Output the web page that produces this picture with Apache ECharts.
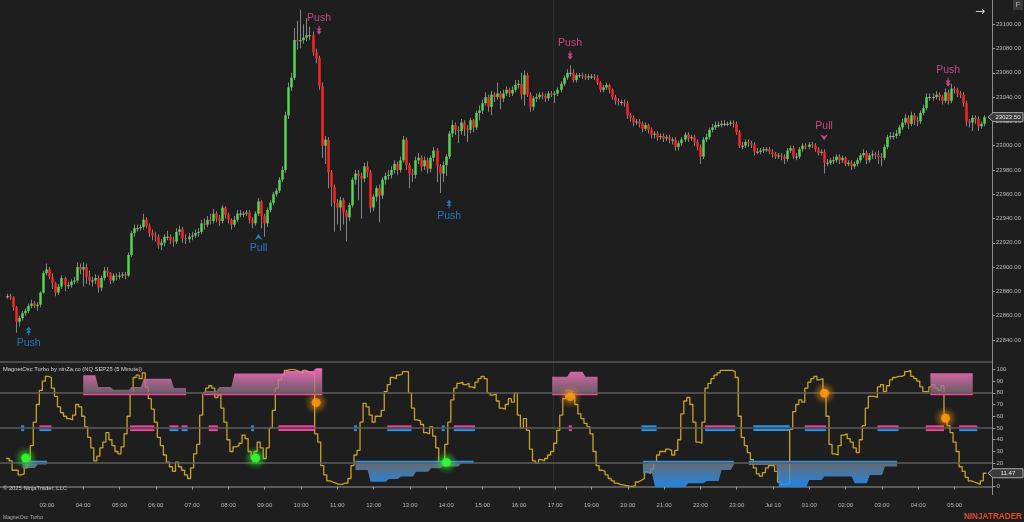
<!DOCTYPE html>
<html>
<head>
<meta charset="utf-8">
<title>NQ SEP25 (5 Minute) - MagnetOsc Turbo</title>
<script src="https://cdn.jsdelivr.net/npm/echarts@6/dist/echarts.min.js"></script>
<style>
html,body{margin:0;padding:0;background:#1e1e1e;overflow:hidden;}
#chart{width:1024px;height:522px;}
</style>
</head>
<body>
<div id="chart"></div>
<script>
// ================= DATA =================
const firstOpen = 22876;
const closes = [
22876,22875,22867,22855,22858,22862,22864,22868,22870,22868,
22869,22879,22895,22898,22892,22887,22879,22884,22891,22885,
22885,22888,22889,22900,22898,22900,22892,22889,22889,22891,
22883,22891,22897,22895,22889,22893,22892,22893,22894,22893,
22910,22928,22932,22932,22933,22939,22934,22928,22926,22925,
22918,22920,22925,22925,22922,22921,22929,22931,22924,22923,
22925,22926,22928,22929,22936,22935,22939,22938,22944,22940,
22938,22949,22943,22939,22935,22939,22944,22944,22944,22945,
22939,22936,22944,22954,22942,22936,22947,22953,22960,22963,
22972,22980,23025,23048,23056,23087,23086,23087,23089,23091,
23091,23077,23072,23049,23000,23005,22978,22966,22953,22949,
22955,22945,22941,22951,22972,22977,22975,22973,22983,22978,
22949,22958,22965,22959,22972,22975,22976,22980,22985,22980,
22988,23005,22984,22977,22976,22988,22990,22983,22988,22981,
22990,22996,22983,22977,22984,22991,23010,23017,23013,23012,
23019,23014,23013,23021,23015,23027,23029,23035,23040,23032,
23042,23040,23043,23039,23043,23046,23043,23046,23050,23051,
23042,23058,23042,23032,23039,23040,23042,23041,23039,23043,
23042,23043,23046,23051,23056,23060,23060,23054,23058,23058,
23057,23056,23057,23057,23056,23052,23046,23048,23050,23046,
23040,23037,23036,23036,23035,23025,23023,23019,23020,23018,
23014,23017,23013,23009,23010,23007,23008,23006,23007,23005,
23005,22999,23002,23005,23009,23006,23007,23003,22999,22991,
23005,23007,23013,23015,23017,23017,23018,23018,23018,23019,
23018,23011,23000,23000,23003,23002,23001,22995,22995,22996,
22997,22997,22995,22993,22991,22992,22991,22989,22996,22998,
22991,22991,22997,23000,22999,23001,23000,22997,22994,22995,
22986,22986,22988,22988,22991,22988,22990,22985,22986,22983,
22985,22988,22992,22994,22988,22992,22993,22992,22991,22990,
22999,23007,23008,23008,23010,23015,23019,23023,23018,23025,
23021,23020,23027,23031,23040,23040,23040,23042,23040,23037,
23044,23037,23047,23046,23043,23042,23035,23020,23019,23023,
23022,23016,23018,23023.5];
const highs = [
22878,22878,22876,22868,22860,22864,22866,22870,22873,22872,
22871,22880,22897,22903,22900,22895,22888,22886,22893,22892,
22888,22890,22892,22904,22903,22904,22903,22897,22892,22894,
22893,22893,22900,22900,22896,22895,22895,22896,22896,22896,
22912,22930,22935,22935,22935,22944,22941,22936,22931,22929,
22927,22923,22927,22930,22927,22925,22932,22934,22933,22927,
22928,22929,22931,22932,22939,22940,22942,22944,22948,22946,
22943,22951,22950,22945,22940,22942,22947,22947,22946,22947,
22947,22941,22946,22957,22955,22944,22949,22955,22962,22965,
22974,22983,23028,23052,23060,23097,23103,23112,23100,23105,
23098,23094,23080,23074,23052,23008,23007,22980,22968,22956,
22958,22957,22947,22953,22974,22980,22980,22978,22986,22987,
22980,22960,22967,22968,22974,22978,22980,22983,22988,22987,
22991,23008,23007,22986,22981,22991,22994,22992,22991,22990,
22992,22999,22998,22985,22987,22993,23012,23021,23019,23016,
23022,23021,23017,23023,23022,23029,23033,23038,23044,23042,
23045,23044,23052,23045,23046,23049,23048,23049,23054,23054,
23060,23062,23060,23044,23041,23043,23044,23044,23043,23045,
23045,23045,23048,23053,23058,23063,23066,23063,23060,23060,
23060,23059,23059,23059,23059,23058,23053,23050,23052,23051,
23047,23042,23039,23038,23038,23037,23027,23025,23022,23022,
23020,23019,23018,23015,23012,23012,23010,23010,23009,23009,
23007,23007,23004,23007,23011,23011,23009,23009,23005,23001,
23007,23010,23015,23018,23020,23020,23021,23021,23020,23021,
23021,23020,23013,23003,23005,23005,23004,23003,22998,22998,
22999,22999,22999,22997,22995,22994,22994,22993,22998,23000,
23000,22994,22999,23002,23002,23003,23003,23002,22999,22997,
22997,22989,22990,22991,22993,22993,22992,22991,22988,22988,
22987,22990,22994,22997,22996,22994,22996,22995,22996,22994,
23001,23009,23011,23011,23013,23017,23022,23026,23025,23028,
23027,23024,23029,23034,23043,23043,23043,23045,23044,23042,
23047,23046,23051,23049,23048,23045,23044,23037,23022,23025,
23025,23024,23020,23025];
const lows = [
22874,22873,22864,22846,22851,22856,22860,22862,22866,22866,
22864,22867,22878,22893,22890,22882,22876,22877,22882,22880,
22882,22883,22886,22887,22894,22884,22886,22885,22884,22886,
22879,22880,22889,22892,22886,22887,22889,22890,22891,22890,
22892,22908,22925,22929,22930,22931,22932,22925,22922,22921,
22915,22914,22917,22922,22919,22917,22919,22926,22920,22919,
22920,22922,22924,22925,22927,22931,22933,22935,22936,22937,
22934,22936,22940,22936,22931,22933,22937,22941,22941,22942,
22936,22932,22934,22942,22932,22925,22933,22945,22951,22958,
22961,22970,22978,23022,23045,23054,23079,23080,23084,23086,
23087,23074,23068,23046,22990,22985,22965,22950,22929,22935,
22930,22935,22921,22938,22949,22968,22955,22940,22970,22974,
22945,22946,22954,22937,22956,22968,22972,22973,22977,22976,
22978,22986,22980,22965,22970,22973,22985,22979,22980,22977,
22978,22987,22970,22961,22970,22975,22989,23007,23009,23002,
23009,23008,23003,23010,23011,23013,23021,23026,23033,23028,
23025,23036,23038,23030,23036,23041,23040,23041,23044,23047,
23038,23033,23040,23028,23029,23036,23038,23038,23036,23037,
23040,23035,23041,23044,23049,23054,23057,23052,23052,23056,
23055,23054,23054,23055,23054,23050,23044,23044,23046,23043,
23038,23034,23033,23033,23032,23022,23020,23016,23017,23015,
23011,23012,23010,23006,23006,23004,23005,23003,23004,23002,
23001,22996,22996,23000,23003,23003,23004,23000,22996,22985,
22989,23003,23005,23011,23013,23015,23015,23016,23016,23016,
23015,23009,22998,22997,22998,22999,22998,22992,22993,22993,
22994,22995,22993,22990,22989,22989,22988,22985,22987,22994,
22989,22988,22989,22995,22997,22997,22998,22995,22992,22992,
22977,22983,22984,22985,22986,22985,22986,22983,22983,22980,
22981,22983,22986,22990,22985,22986,22989,22989,22985,22983,
22988,22997,23005,23005,23006,23008,23013,23017,23014,23016,
23017,23016,23018,23025,23029,23037,23037,23038,23037,23034,
23035,23034,23035,23043,23040,23039,23032,23016,23015,23012,
23018,23012,23014,23016];
const osc = [
24,22,14,14,10,11,16,21,35,55,
70,82,90,94,93,84,77,68,63,60,
58,57,61,70,68,60,51,42,33,22,
26,33,38,46,40,35,30,28,34,45,
60,80,93,95,92,97,85,75,66,55,
42,35,27,21,17,13,21,17,14,10,
7,16,28,36,61,80,84,86,84,76,
78,67,55,40,30,34,35,37,44,41,
30,24,30,38,33,24,33,50,65,84,
91,95,99,100,100,99,98,97,99,98,
97,96,45,38,18,10,5,4,3,2,
2,3,3,7,18,27,31,55,71,68,
61,55,60,60,65,81,87,93,92,95,
96,98,98,80,67,57,56,53,46,45,
51,43,33,20,21,36,55,74,84,88,
89,87,88,85,84,89,92,94,92,80,
78,79,73,67,66,70,75,72,80,61,
50,58,48,32,22,20,23,22,24,27,
30,37,48,61,75,82,81,77,70,62,
58,54,51,45,30,18,14,13,10,7,
5,3,2,1.5,1,0.5,0.3,1,4,5.5,
7,12.8,11.4,15,21,27,30,30,32,31,
27,31,40,62,73,76,70,55,38,37,
55,84,88,92,95,97,99,99,99,99,
98,93,60,42,35,29,23,16,11,9,
12,16,18,18,13,4,2,2,3,49,
64,70,74,72,84,89,92,94,91,92,
82,60,36,28,27,35,44,45,41,38,
33,29,40,52,67,77,77,76,85,87,
81,86,91,93,94,94,95,98,99,94,
92,90,85,81,81,85,87,84,82,86,
56,52,46,38,30,17,13,8,5,4,
3,2,5,11.47];
const lastPrice = 23023.5;
const lastOsc = 11.47;

// time-axis labels (bar index -> text)
const tickIndex  = [13,25,37,49,61,73,85,97,109,121,133,145,157,169,181,193,205,217,229,241,253,265,277,289,301,313];
const tickLabels = ['03:00','04:00','05:00','06:00','07:00','08:00','09:00','10:00','11:00','12:00','13:00','14:00','15:00','16:00','17:00','19:00','20:00','21:00','22:00','23:00','Jul 10','01:00','02:00','03:00','04:00','05:00'];
const priceTicks = {min:22820, max:23120, step:20};

// Push / Pull signals on the price pane (bar index, price level)
const signals = [
  {i:7,   price:22847.3, kind:'pushUp',   text:'Push'},
  {i:83,  price:22924.7, kind:'pullUp',   text:'Pull'},
  {i:103, price:23095.1, kind:'pushDown', text:'Push'},
  {i:146, price:22951.9, kind:'pushUp',   text:'Push'},
  {i:186, price:23074.5, kind:'pushDown', text:'Push'},
  {i:270, price:23007.0, kind:'pullDown', text:'Pull'},
  {i:311, price:23052.3, kind:'pushDown', text:'Push'}
];
// oscillator glow dots (bar index, oscillator value)
const greenDots  = [[6,24.4],[82,24.4],[145,20.8]];
const orangeDots = [[102,71.6],[186,76.7],[270,79.6],[310,58.3]];
// magnet zones: start bar + runs of [level, bars]
const pinkZones = [
  {start:25,  runs:[[95,5],[85,5],[82.5,6],[85,4],[92,10],[84,5]]},
  {start:65,  runs:[[81.5,5],[85,5],[96.5,17],[98.5,10],[101,3]]},
  {start:180, runs:[[93.7,6],[98,5],[93.7,5]]},
  {start:305, runs:[[96.6,15]]}
];
const blueZones = [
  {start:5,   runs:[[16,5],[19,4]]},
  {start:115, runs:[[14.2,5],[4.3,6],[6.5,4],[8.6,5],[12.8,5],[15.7,4],[17.1,6],[20,5]]},
  {start:210, runs:[[11.4,4],[0,11],[2.9,6],[4.9,5],[14.2,4],[18.5,1]]},
  {start:245, runs:[[18.5,10],[0,10],[5.7,5],[8.6,10],[2.9,5],[10,5],[17.1,5]]}
];
// mid-level dashes: [fromBar, toBar, upperIsPink, lowerIsPink]
const midDashes = [[5,5,0,0],[11,14,1,0],[41,48,1,1],[54,56,1,0],[58,59,1,0],[67,69,1,1],[81,81,0,0],[90,101,1,1],
  [115,115,0,0],[126,133,1,0],[144,144,0,0],[148,154,1,0],[186,186,1,1],[210,214,0,0],[231,240,1,0],[247,258,0,0],
  [264,270,1,0],[288,294,1,0],[304,309,1,1],[315,320,1,0]];
const levels = {upper:80, mid:50, lower:20, pinkLine:78.7, blueLine:21.3, dashHi:51.4, dashLo:48.2};

// ================= CHART =================
const OFF = 2, TRAIL = 2;
const NSLOT = closes.length + OFF + TRAIL;
const FONT = '"Liberation Sans", Arial, sans-serif';
const UP = '#55d655', DN = '#ff2222', DOJI = '#b8b8b8', WICK = '#858585';
const PINK = '#ff3d9e', BLUE = '#2196f3';

function pad(n){return (n<10?'0':'')+n;}
const cats = [];
for (let k=0;k<NSLOT;k++){
  const i = k-OFF;
  let m = i<=181 ? 115+5*i : 1085+5*(i-182);
  const day = m>=1440 ? 'Jul 10 ' : 'Jul 9 ';
  m = m%1440;
  cats.push(day+pad(Math.floor(m/60))+':'+pad(m%60));
}
const labelAt = {};
tickIndex.forEach((t,j)=>{ labelAt[t+OFF] = tickLabels[j]; });
const showTick = (idx)=> labelAt[idx] !== undefined;

const candleData = closes.map((c,i)=>[i+OFF, i===0?firstOpen:closes[i-1], c, lows[i], highs[i]]);
const oscData = [];
for (let k=0;k<NSLOT;k++){ const i=k-OFF; oscData.push(i>=0 && i<osc.length ? osc[i] : null); }

function expandRuns(runs){ const out=[]; runs.forEach(r=>{for(let j=0;j<r[1];j++) out.push(r[0]);}); return out; }

function renderCandle(params, api){
  const k=api.value(0), o=api.value(1), c=api.value(2), l=api.value(3), h=api.value(4);
  const pO=api.coord([k,o]), pC=api.coord([k,c]);
  const pL=api.coord([k,Math.min(l,o,c)]), pH=api.coord([k,Math.max(h,o,c)]);
  const cx=Math.floor(pO[0]);
  const top=Math.min(pO[1],pC[1]), bot=Math.max(pO[1],pC[1]);
  const col = c>o?UP:(c<o?DN:DOJI);
  return {type:'group', children:[
    {type:'rect', shape:{x:cx, y:pH[1], width:1, height:Math.max(1,pL[1]-pH[1])}, style:{fill:WICK}},
    {type:'rect', shape:{x:cx-0.75, y:top, width:2.5, height:Math.max(1,bot-top)}, style:{fill:col}}
  ]};
}

function zoneRenderer(zones, lineVal, lineColor, g){
  return function(params, api){
    const z = zones[params.dataIndex];
    const vals = expandRuns(z.runs);
    const s = z.start+OFF, e = s+vals.length-1;
    const pts = [api.coord([s,lineVal])];
    vals.forEach((v,j)=>pts.push(api.coord([s+j,v])));
    pts.push(api.coord([e,lineVal]));
    const y0 = api.coord([s,g.v0])[1], y1 = api.coord([s,g.v1])[1];
    const a = api.coord([s,lineVal]), b = api.coord([e,lineVal]);
    return {type:'group', children:[
      {type:'polygon', shape:{points:pts}, style:{fill:new echarts.graphic.LinearGradient(0,y0,0,y1,[{offset:0,color:g.c0},{offset:1,color:g.c1}],true), opacity:0.9}},
      {type:'line', shape:{x1:a[0],y1:a[1],x2:b[0],y2:b[1]}, style:{stroke:lineColor, lineWidth:2}}
    ]};
  };
}

function renderDash(params, api){
  const f=api.value(0), t=api.value(2), up=api.value(3), lo=api.value(4);
  const bw = api.size([1,0])[0];
  const a = api.coord([f, levels.dashHi]), b = api.coord([t, levels.dashHi]);
  const c = api.coord([f, levels.dashLo]);
  const x = a[0]-bw/2, w = b[0]-a[0]+bw;
  return {type:'group', children:[
    {type:'rect', shape:{x:x, y:a[1]-1, width:w, height:2}, style:{fill: up?PINK:BLUE}},
    {type:'rect', shape:{x:x, y:c[1]-1, width:w, height:2}, style:{fill: lo?PINK:BLUE}}
  ]};
}

const SYM = {
  pushUp:   'path://M5,0 L10,5 L0,5 Z M5,4 L10,9 L0,9 Z M4,9 L6,9 L6,13 L4,13 Z',
  pushDown: 'path://M4,0 L6,0 L6,4 L4,4 Z M0,4 L10,4 L5,9 Z M0,8 L10,8 L5,13 Z',
  pullUp:   'path://M0,7 L5,0 L10,7 L5,4.5 Z',
  pullDown: 'path://M0,0 L5,2.5 L10,0 L5,7 Z'
};
const signalData = signals.map(s=>{
  const isUp = s.kind==='pushUp'||s.kind==='pullUp';
  const col = isUp ? '#2a8ae6' : '#f0519f';
  const isPush = s.kind.indexOf('push')===0;
  return {
    value:[s.i+OFF, s.price], symbol:SYM[s.kind], symbolSize: isPush?[5,9]:[8,6],
    itemStyle:{color:col},
    label:{show:true, formatter:s.text, position:isUp?'bottom':'top', distance:isPush?2:3,
           color:col, fontSize:10.5, fontFamily:FONT}
  };
});

function halo(rgb){
  return new echarts.graphic.RadialGradient(0.5,0.5,0.5,[
    {offset:0,color:'rgba('+rgb+',0.75)'},{offset:0.35,color:'rgba('+rgb+',0.35)'},{offset:1,color:'rgba('+rgb+',0)'}]);
}
const off = arr => arr.map(d=>[d[0]+OFF, d[1]]);

const axisLabelStyle = {color:'#b9b9b9', fontSize:6, fontFamily:FONT};
const option = {
  backgroundColor:'#1e1e1e',
  animation:false,
  grid:[
    {left:-1.4, width:993.8, top:-0.3, height:364.5},
    {left:-1.4, width:993.8, top:369.3, height:117.4}
  ],
  xAxis:[
    {type:'category', gridIndex:0, data:cats, boundaryGap:true, show:false},
    {type:'category', gridIndex:1, data:cats, boundaryGap:true, offset:7.3,
     axisLine:{show:true, lineStyle:{color:'#5a5a5a', width:2}},
     axisTick:{show:true, alignWithLabel:true, interval:showTick, length:3, lineStyle:{color:'#9a9a9a'}},
     axisLabel:Object.assign({interval:showTick, margin:8, formatter:(v,idx)=>labelAt[idx]||''}, axisLabelStyle),
     splitLine:{show:false}}
  ],
  yAxis:[
    {type:'value', gridIndex:0, position:'right', min:priceTicks.min, max:priceTicks.max, interval:priceTicks.step,
     axisLine:{show:false}, axisTick:{show:true, length:3, lineStyle:{color:'#9a9a9a'}},
     axisLabel:Object.assign({formatter:v=>v.toFixed(2), margin:4, showMinLabel:false, showMaxLabel:false}, axisLabelStyle),
     splitLine:{show:false}},
    {type:'value', gridIndex:1, position:'right', min:0, max:100, interval:10,
     axisLine:{show:false}, axisTick:{show:true, length:3, lineStyle:{color:'#9a9a9a'}},
     axisLabel:Object.assign({margin:4}, axisLabelStyle),
     splitLine:{show:false}}
  ],
  series:[
    {type:'custom', name:'NQ', xAxisIndex:0, yAxisIndex:0, data:candleData, renderItem:renderCandle,
     encode:{x:0, y:[1,2,3,4]}, z:3, silent:true},
    {type:'scatter', name:'signals', xAxisIndex:0, yAxisIndex:0, data:signalData, z:4, silent:true},
    {type:'line', name:'MagnetOsc', xAxisIndex:1, yAxisIndex:1, data:oscData, step:'middle', showSymbol:false,
     lineStyle:{color:'#c9a228', width:1.3}, z:3, silent:true,
     markLine:{silent:true, symbol:['none','none'], label:{show:false},
       lineStyle:{color:'#5c5c5c', width:1.5, type:'solid'},
       data:[{yAxis:levels.upper},{yAxis:levels.mid},{yAxis:levels.lower}]}},
    {type:'custom', name:'pinkZones', xAxisIndex:1, yAxisIndex:1, clip:false, silent:true, z:4,
     data:pinkZones.map(z=>[z.start+OFF, levels.upper]), encode:{x:0,y:1},
     renderItem:zoneRenderer(pinkZones, levels.pinkLine, PINK, {v0:100, v1:80, c0:'#ff6ec4', c1:'rgba(135,112,128,0.85)'})},
    {type:'custom', name:'blueZones', xAxisIndex:1, yAxisIndex:1, clip:false, silent:true, z:4,
     data:blueZones.map(z=>[z.start+OFF, levels.lower]), encode:{x:0,y:1},
     renderItem:zoneRenderer(blueZones, levels.blueLine, BLUE, {v0:20, v1:0, c0:'rgba(120,132,146,0.85)', c1:'#1e90ff'})},
    {type:'custom', name:'dashes', xAxisIndex:1, yAxisIndex:1, clip:false, silent:true, z:4,
     data:midDashes.map(d=>[d[0]+OFF, levels.mid, d[1]+OFF, d[2], d[3]]), encode:{x:0,y:1},
     renderItem:renderDash},
    {type:'scatter', xAxisIndex:1, yAxisIndex:1, data:off(greenDots), symbolSize:24, itemStyle:{color:halo('40,255,40')}, z:5, silent:true},
    {type:'scatter', xAxisIndex:1, yAxisIndex:1, data:off(greenDots), symbolSize:9, itemStyle:{color:'#35ff35', shadowBlur:6, shadowColor:'#20ff20'}, z:6, silent:true},
    {type:'scatter', xAxisIndex:1, yAxisIndex:1, data:off(orangeDots), symbolSize:24, itemStyle:{color:halo('255,150,20')}, z:5, silent:true},
    {type:'scatter', xAxisIndex:1, yAxisIndex:1, data:off(orangeDots), symbolSize:9, itemStyle:{color:'#ff9a10', shadowBlur:6, shadowColor:'#ff8c00'}, z:6, silent:true}
  ]
};

const chart = echarts.init(document.getElementById('chart'), null, {renderer:'canvas'});
chart.setOption(option);

// decorations positioned through the chart's own scales
const xPix = k => chart.convertToPixel({xAxisIndex:0}, k);
const yP = v => chart.convertToPixel({yAxisIndex:0}, v);
const yO = v => chart.convertToPixel({yAxisIndex:1}, v);
const breakX = Math.round((xPix(180+OFF)+xPix(181+OFF))/2);
function tag(y, text){
  return [
    {type:'polygon', shape:{points:[[988,y],[993,y-4.5],[1023,y-4.5],[1023,y+4.5],[993,y+4.5]]},
     style:{fill:'#3b3b3b', stroke:'#a8a8a8', lineWidth:1}, z:20, silent:true},
    {type:'text', x:1008, y:y, style:{text:text, fill:'#f2f2f2', fontSize:6, fontFamily:FONT, align:'center', verticalAlign:'middle'}, z:21, silent:true}
  ];
}
const txt = (x,y,t,size,fill,extra)=>({type:'text', x:x, y:y, silent:true, z:20,
  style:Object.assign({text:t, fill:fill, fontSize:size, fontFamily:FONT, verticalAlign:'middle'}, extra||{})});

chart.setOption({graphic:[
  {type:'rect', shape:{x:breakX, y:0, width:1, height:494}, style:{fill:'#2b2b2b'}, z:-1, silent:true},
  {type:'rect', shape:{x:0, y:361, width:993, height:2}, style:{fill:'#4b4b4b'}, z:10, silent:true},
  {type:'rect', shape:{x:992, y:0, width:1, height:495}, style:{fill:'#8e8e8e'}, z:10, silent:true},
  ...tag(yP(lastPrice), lastPrice.toFixed(2)),
  ...tag(yO(lastOsc), lastOsc.toFixed(2)),
  txt(3, 369, 'MagnetOsc Turbo by ninZa.co (NQ SEP25 (5 Minute))', 5.8, '#d4d4d4'),
  txt(3, 488, '\u00a9 2025 NinjaTrader, LLC', 5.8, '#c8c8c8'),
  txt(3, 518, 'MagnetOsc Turbo', 5, '#b0b0b0'),
  txt(1022, 516.5, 'NINJATRADER', 8.2, '#e8472c', {align:'right', fontWeight:'bold'}),
  txt(980, 12, '\u2192', 12, '#d0d0d0', {align:'center', fontFamily:'"DejaVu Sans", sans-serif'}),
  {type:'rect', shape:{x:1013, y:0, width:10, height:10}, style:{fill:'#3a3a3a'}, z:20, silent:true},
  txt(1018, 5.5, 'F', 7, '#c0c0c0', {align:'center'})
]});
</script>
</body>
</html>
